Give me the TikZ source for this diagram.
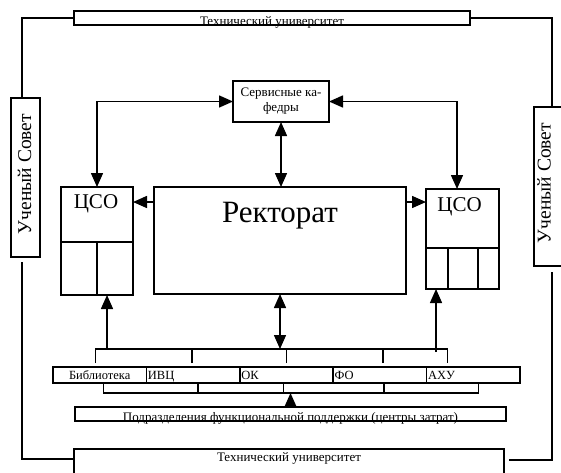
\documentclass[tikz,border=0pt]{standalone}
\usepackage{fontspec}
\setmainfont{Liberation Serif}
\usetikzlibrary{arrows.meta,positioning}

\begin{document}
\begin{tikzpicture}[x=1pt, y=-1pt,
  every node/.style={font=\fontsize{13}{15}\selectfont, inner sep=0pt},
  box/.style={draw, line width=1.5pt, outer sep=0pt},
  dept/.style={box, text width=90.4pt, inner xsep=1.5pt, minimum height=16pt, text height=10pt, text depth=1pt, font=\fontsize{12.5}{14}\selectfont},
  line/.style={line width=1.5pt},
  arr/.style={line, -{Triangle[length=14pt,width=12pt]}},
  darr/.style={line, {Triangle[length=14pt,width=12pt]}-{Triangle[length=14pt,width=12pt]}},
  big/.style={font=\fontsize{31}{36}\selectfont},
  mid/.style={font=\fontsize{21}{24}\selectfont},
  vert/.style={rotate=90, font=\fontsize{19.5}{22}\selectfont}
]
  \useasboundingbox (0,0) rectangle (561,472);

  % outer frame
  \node[box, minimum width=396pt, minimum height=14pt] (top) at (272,18) {};
  \node[anchor=base] (toptxt) at (272,25.5) {Технический университет};
  \node[box, minimum width=430pt, minimum height=30pt] (bot) at (289,464) {};
  \node[anchor=base] (bottxt) at (289,461.5) {Технический университет};
  \node[box, minimum width=29pt, minimum height=159pt] (sovetL) at (25.5,177.5) {};
  \node[vert] (sovetLtxt) at (24.5,174) {Ученый Совет};
  \node[box, minimum width=36pt, minimum height=159pt] (sovetR) at (552,186.5) {};
  \node[vert] (sovetRtxt) at (544,183) {Ученый Совет};

  \draw[line] (top.west) -| ([xshift=-3.5pt]sovetL.north);
  \draw[line] (top.east) -| (sovetR.north);
  \draw[line] ([shift={(-3.5,5)}]sovetL.south) |- ([yshift=5pt]bot.west);
  \draw[line] ([yshift=-6pt]sovetR.south) |- ([shift={(5,-4)}]bot.east);

  % centre
  \node[box, minimum width=96pt, minimum height=41pt, align=center] (serv) at (281,101.5) {Сервисные ка-\\федры};
  \node[box, minimum width=252pt, minimum height=107pt] (rekt) at (280,240.5) {};
  \node[big, anchor=base] (rekttxt) at (280,222) {Ректорат};
  \node[box, minimum width=72pt, minimum height=108pt] (csoL) at (97,241) {};
  \node[mid, anchor=base] (csoLtxt) at (96,208) {ЦСО};
  \node[box, minimum width=73pt, minimum height=100pt] (csoR) at (462.5,239) {};
  \node[mid, anchor=base] (csoRtxt) at (459.5,211) {ЦСО};

  \draw[line] ([yshift=-55pt]csoL.north west) -- ([yshift=-55pt]csoL.north east);
  \draw[line] (csoL.south) -- ++(0,-53);
  \draw[line] ([yshift=-59pt]csoR.north west) -- ([yshift=-59pt]csoR.north east);
  \draw[line] ([xshift=22pt]csoR.south west) -- ++(0,-41);
  \draw[line] ([xshift=52pt]csoR.south west) -- ++(0,-41);

  \draw[darr] (csoL.north) |- (serv.west);
  \draw[darr] ([xshift=-5.5pt]csoR.north) |- (serv.east);
  \draw[darr] (serv.south) -- (serv.south |- rekt.north);
  \coordinate (rl) at ([yshift=-15pt]rekt.north west);
  \coordinate (rr) at ([yshift=-15pt]rekt.north east);
  \draw[arr] (rl) -- (rl -| csoL.east);
  \draw[arr] (rr) -- (rr -| csoR.west);

  % support units
  \node[dept, align=center] (lib) at (99.7,375) {Библиотека};
  \node[dept, align=left, right=0pt of lib] (ivc) {ИВЦ};
  \node[dept, align=left, right=0pt of ivc] (ok) {ОК};
  \node[dept, align=left, right=0pt of ok] (fo) {ФО};
  \node[dept, align=left, right=0pt of fo] (axu) {АХУ};

  \coordinate (busL) at ([shift={(-4,-18)}]lib.north);
  \coordinate (busR) at ([shift={(-26,-18)}]axu.north);
  \draw[line] ([shift={(-4,-4)}]lib.north) -- (busL) -- (busR) -- ([shift={(-26,-4)}]axu.north);
  \foreach \n/\dx in {ivc/-1, ok/0, fo/3}
    \draw[line] ([shift={(\dx,-4)}]\n.north) -- ([shift={(\dx,-18)}]\n.north);

  \coordinate (brk) at ([shift={(4,10)}]lib.south);
  \draw[line] ([xshift=4pt]lib.south) -- (brk) -- ([shift={(5,10)}]axu.south) -- ([xshift=5pt]axu.south);
  \foreach \n/\dx in {ivc/5, ok/-3, fo/4}
    \draw[line] ([xshift=\dx pt]\n.south) -- ([shift={(\dx,10)}]\n.south);

  \draw[darr] (rekt.south) -- (rekt.south |- busL);
  \coordinate (inL) at ([xshift=10pt]csoL.south);
  \draw[arr] (inL |- busL) -- (inL);
  \coordinate (inR) at ([xshift=-26.5pt]csoR.south);
  \draw[arr] ([yshift=-3pt]inR |- busL) -- (inR);

  \node[box, minimum width=431pt, minimum height=14pt] (podr) at (290.5,414) {};
  \node[anchor=base] (podrtxt) at (290.5,421) {Подразделения функциональной поддержки (центры затрат)};
  \draw[arr] (podr.north) -- (podr.north |- brk);
\end{tikzpicture}
\end{document}
